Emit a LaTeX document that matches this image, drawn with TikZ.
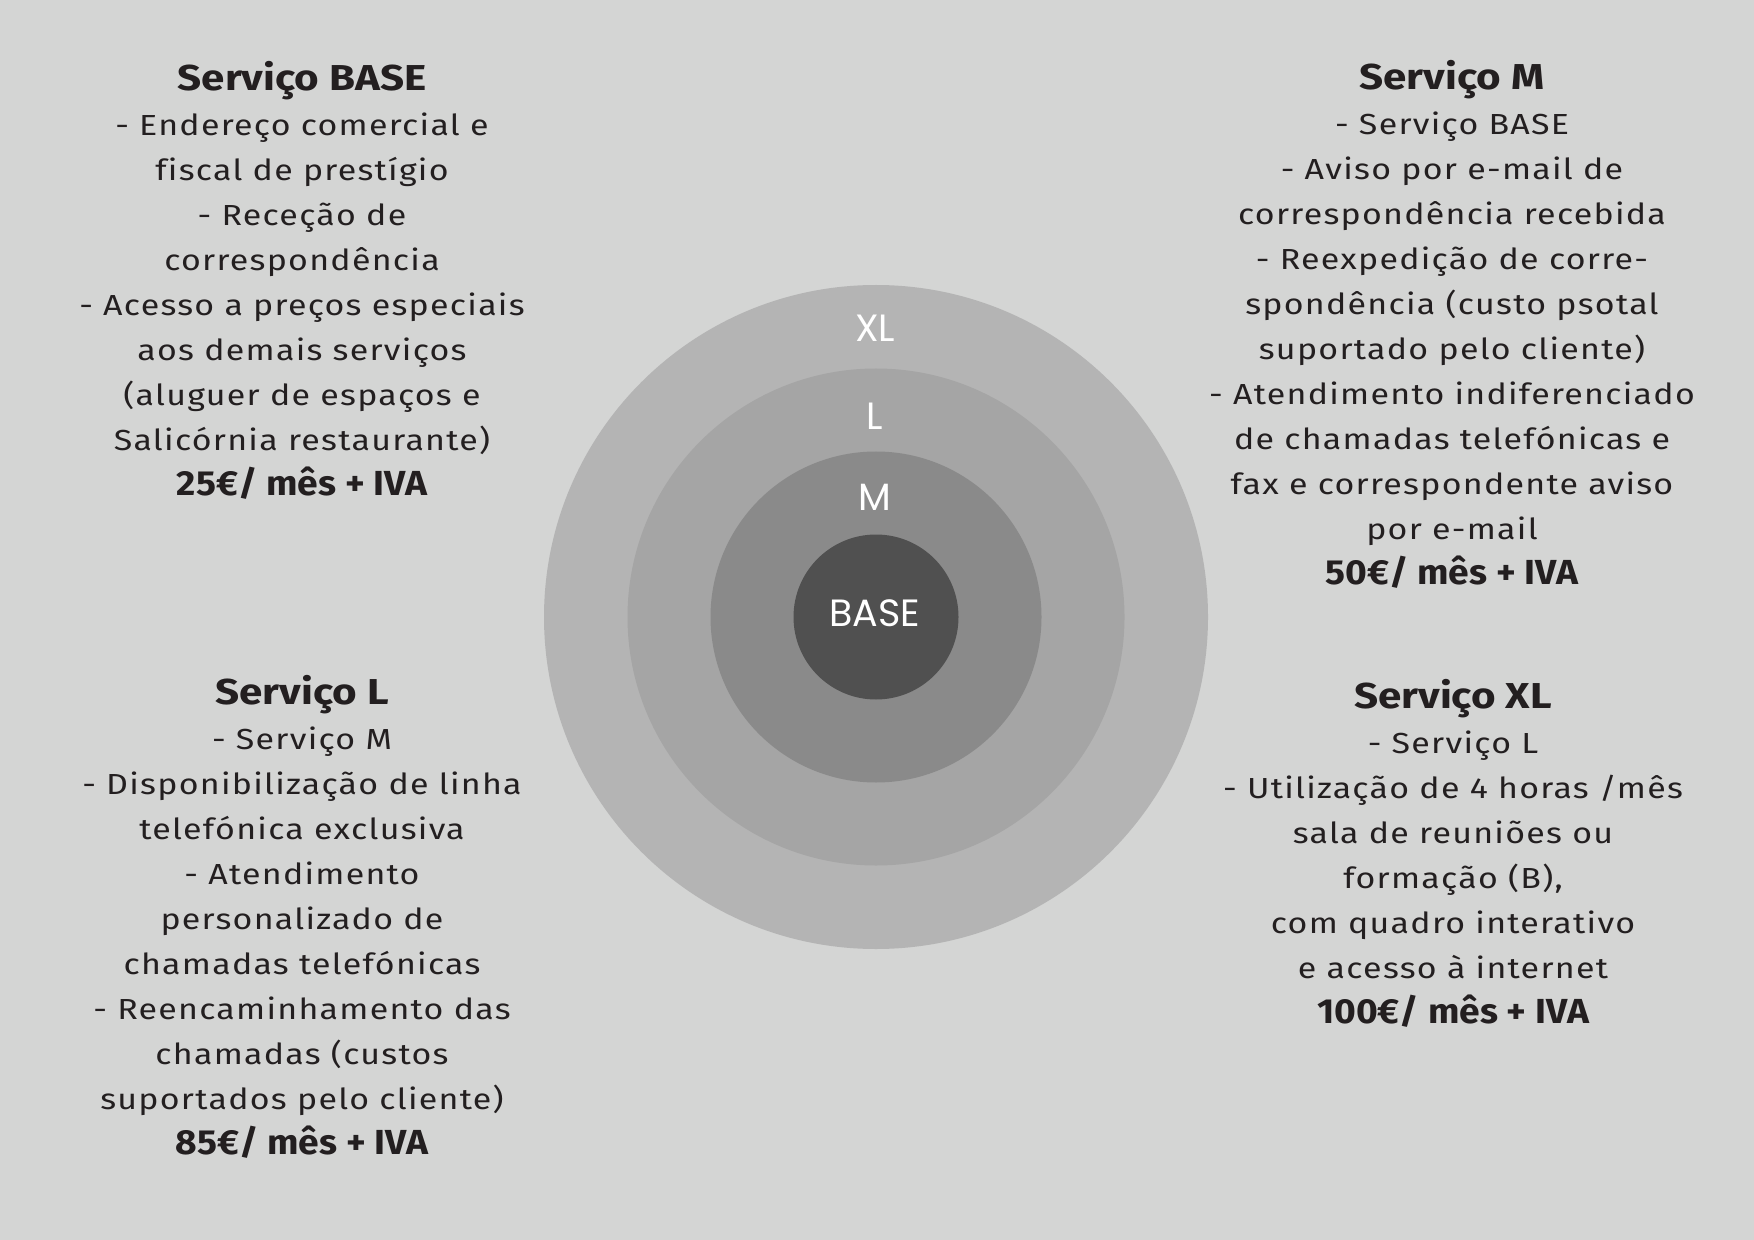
\documentclass[tikz,border=0pt]{standalone}
\usepackage{fontspec}
\setmainfont{Fira Sans}
\newfontfamily\bodyf{Fira Sans}[FakeStretch=1.17, LetterSpace=4.4, Ligatures=NoCommon]
\newfontfamily\hdf{Fira Sans}[FakeStretch=1.17]
\newfontfamily\prf{Fira Sans}[FakeStretch=1.07]
\newfontfamily\circfont{Poppins}
\definecolor{bgc}{HTML}{D4D5D4}
\definecolor{cxl}{HTML}{B4B4B4}
\definecolor{cl}{HTML}{A5A5A5}
\definecolor{cm}{HTML}{8A8A8A}
\definecolor{cbase}{HTML}{505050}
\definecolor{txt}{HTML}{231F20}
\tikzset{
  ring/.style={circle, inner sep=0pt, draw=none},
  lbl/.style={inner sep=0pt, text=white, font=\circfont\fontsize{19pt}{22pt}\selectfont},
  blk/.style={inner sep=0pt, align=center, text=txt, anchor=base, font=\bodyf\fontsize{14.5pt}{22.5pt}\selectfont},
}
\newcommand{\hd}[1]{{\hdf\bfseries\fontsize{18pt}{22.5pt}\selectfont #1}}
\newcommand{\pr}[1]{{\prf\bfseries\fontsize{17.4pt}{22.5pt}\selectfont #1}}
\begin{document}
\begin{tikzpicture}[x=0.5pt,y=-0.5pt]
\fill[bgc] (0,0) rectangle (1754,1240);
\useasboundingbox (0,0) rectangle (1754,1240);
\node[ring, fill=cxl, minimum size=332pt] (rxl) at (876,617) {};
\node[ring, fill=cl, minimum size=248.5pt] (rl) at (876,617) {};
\node[ring, fill=cm, minimum size=165.5pt] (rm) at (876,617) {};
\node[ring, fill=cbase, minimum size=82.5pt] (rb) at (876,617) {};
\node[lbl] (lxl) at (875,328.5) {XL};
\node[lbl] (ll) at (875,416) {L};
\node[lbl] (lm) at (875,497) {M};
\node[lbl] (lb) at (875,613) {BASE};

\node[blk] (tbase) at (302,495) {\hd{Serviço BASE}\\
- Endereço comercial e\\
fiscal de prestígio\\
- Receção de\\
correspondência\\
- Acesso a preços especiais\\
aos demais serviços\\
(aluguer de espaços e\\
Salicórnia restaurante)\\
\pr{25€/ mês + IVA}};

\node[blk] (tm) at (1452,584) {\hd{Serviço M}\\
- Serviço BASE\\
- Aviso por e-mail de\\
correspondência recebida\\
- Reexpedição de corre-\\
spondência (custo psotal\\
suportado pelo cliente)\\
- Atendimento indiferenciado\\
de chamadas telefónicas e\\
fax e correspondente aviso\\
por e-mail\\
\pr{50€/ mês + IVA}};

\node[blk] (tl) at (302,1154) {\hd{Serviço L}\\
- Serviço M\\
- Disponibilização de linha\\
telefónica exclusiva\\
- Atendimento\\
personalizado de\\
chamadas telefónicas\\
- Reencaminhamento das\\
chamadas (custos\\
suportados pelo cliente)\\
\pr{85€/ mês + IVA}};

\node[blk] (txl) at (1453,1023) {\hd{Serviço XL}\\
- Serviço L\\
- Utilização de 4 horas /mês\\
sala de reuniões ou\\
formação (B),\\
com quadro interativo\\
e acesso à internet\\
\pr{100€/ mês + IVA}};
\end{tikzpicture}
\end{document}
